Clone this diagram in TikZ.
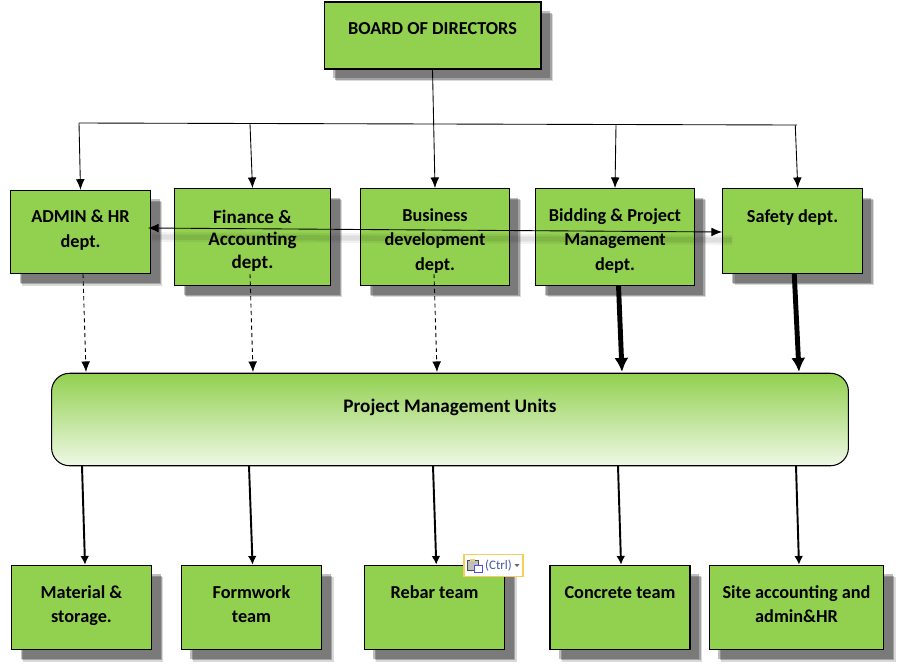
\documentclass[tikz,border=0pt]{standalone}
\usepackage{fontspec}
\setmainfont{Carlito}
\usetikzlibrary{arrows.meta,shadows}
\definecolor{boxgreen}{HTML}{92D050}
\definecolor{popupedge}{HTML}{F5CE5A}
\definecolor{ctrlblue}{HTML}{4A5A9A}
\tikzset{
	softshadow/.style={
		general shadow={shadow xshift=6.8pt,shadow yshift=-6.8pt,fill=black,opacity=.15},
		general shadow={shadow xshift=6pt,shadow yshift=-6pt,fill=black,opacity=.25},
		general shadow={shadow xshift=5.2pt,shadow yshift=-5.2pt,fill=black,opacity=.25}},
	greenbox/.style={draw,fill=boxgreen,softshadow,line width=.6pt,inner sep=0pt,align=center,font=\bfseries\fontsize{10.4}{13.7}\selectfont},
	thin link/.style={-{Latex[length=6pt,width=5pt]},line width=.5pt},
	dash link/.style={-{Latex[length=6pt,width=5pt]},line width=.5pt,dash pattern=on 2.4pt off 1.8pt},
	heavy link/.style={-{Latex[length=8pt,width=8pt]},line width=2.8pt},
	mid link/.style={-{Latex[length=5pt,width=5pt]},line width=1.1pt}
}
\newcommand{\link}[3]{\draw[#1] (#2) -- (#3);}

\begin{document}
\begin{tikzpicture}[x=.02cm,y=-.02cm]
	\useasboundingbox (0,0) rectangle (901,667);

	\node[greenbox,minimum width=4.34cm,minimum height=1.34cm,text height=7pt,text depth=8.2pt](board) at (432.5,35.5) {BOARD OF DIRECTORS};

	\node[greenbox,minimum width=2.8cm,minimum height=1.67cm,text height=21.2pt,text depth=3.9pt,font=\bfseries\fontsize{10.4}{14.2}\selectfont](admin) at (80.5,232) {ADMIN \& HR\\dept.};
	\node[greenbox,minimum width=3.12cm,minimum height=1.94cm,text height=35.3pt,text depth=0pt,font=\bfseries\fontsize{10.85}{12.8}\selectfont](finance) at (252.5,237) {Finance \&\\Accounting\\dept.};
	\node[greenbox,minimum width=2.97cm,minimum height=1.94cm,text height=37.6pt,text depth=0pt](business) at (435,237) {Business\\development\\dept.};
	\node[greenbox,minimum width=3.17cm,minimum height=1.94cm,text height=37.6pt,text depth=0pt](bidding) at (615,237) {Bidding \& Project\\Management\\dept.};
	\node[greenbox,minimum width=2.79cm,minimum height=1.7cm,text height=7pt,text depth=16.7pt](safety) at (792.5,231) {Safety dept.};

	\node[draw,line width=.6pt,rounded corners=.36cm,top color=boxgreen,bottom color=boxgreen!15,minimum width=15.94cm,minimum height=1.85cm,inner sep=0pt,text height=7pt,text depth=15pt,font=\bfseries\fontsize{10.9}{12}\selectfont](units) at (450,419.5) {Project Management Units};

	\node[greenbox,minimum width=2.8cm,minimum height=1.69cm,text height=20.6pt,text depth=3.7pt](material) at (81.5,607.5) {Material \&\\storage.};
	\node[greenbox,minimum width=2.81cm,minimum height=1.69cm,text height=20.6pt,text depth=3.7pt](formwork) at (251.5,607.5) {Formwork\\team};
	\node[greenbox,minimum width=2.81cm,minimum height=1.69cm,text height=7pt,text depth=17.3pt](rebar) at (434.5,607.5) {Rebar team};
	\node[greenbox,minimum width=2.8cm,minimum height=1.69cm,text height=7pt,text depth=17.3pt](concrete) at (620,607.5) {Concrete team};
	\node[greenbox,minimum width=3.49cm,minimum height=1.69cm,text height=20.6pt,text depth=3.7pt](site) at (796.5,607.5) {Site accounting and\\admin\&HR};

	% horizontal bus
	\coordinate (busa) at (79,123);
	\coordinate (busb) at (250,124);
	\coordinate (busc) at (433,124);
	\coordinate (busd) at (616,125);
	\coordinate (buse) at (797,125);
	\draw[line width=.5pt] (busa) -- (buse);

	\link{thin link}{board.south}{business.north}
	\link{thin link}{busa}{admin.north}
	\link{thin link}{busb}{finance.north}
	\link{thin link}{busd}{bidding.north}
	\link{thin link}{[xshift=-1pt]buse}{[xshift=3pt]safety.north}

	% arrow across the departments, with its smudge
	\coordinate (crossa) at (148,228);
	\coordinate (crossb) at (722,232);
	\coordinate (smudgea) at (152,237);
	\coordinate (smudgeb) at (732,240);
	\draw[line width=5.5pt,black,opacity=.05] (smudgea) -- (smudgeb);
	\draw[line width=3pt,black,opacity=.08] (smudgea) -- (smudgeb);
	\draw[{Latex[length=6pt,width=5pt]}-{Latex[length=6pt,width=5pt]},line width=.5pt] (crossa) -- (crossb);

	% top of the units box
	\coordinate (unita) at (86,372);
	\coordinate (unitb) at (253,372);
	\coordinate (unitc) at (437,372);
	\coordinate (unitd) at (622,372);
	\coordinate (unite) at (799,372);
	\coordinate (dasha) at (83,274);
	\coordinate (dashb) at (250,274);
	\coordinate (dashc) at (434,274);
	\link{dash link}{dasha}{unita}
	\link{dash link}{dashb}{unitb}
	\link{dash link}{dashc}{unitc}
	\link{heavy link}{[xshift=2pt]bidding.south}{unitd}
	\link{heavy link}{[xshift=1pt]safety.south}{unite}

	% bottom row
	\coordinate (lowa) at (82,466);
	\coordinate (lowb) at (249,466);
	\coordinate (lowc) at (433,466);
	\coordinate (lowd) at (618,466);
	\coordinate (lowe) at (796,466);
	\link{mid link}{lowa}{[xshift=2pt]material.north}
	\link{mid link}{lowb}{[xshift=.6pt]formwork.north}
	\link{mid link}{lowc}{[xshift=1pt]rebar.north}
	\link{mid link}{lowd}{[xshift=.6pt]concrete.north}
	\link{mid link}{lowe}{[xshift=1.4pt]site.north}

	% paste popup
	\node[draw=popupedge,fill=white,line width=.6pt,minimum width=1.18cm,minimum height=.44cm,inner sep=0pt](popup) at (493.5,565.5) {};
	\node[inner sep=0pt,text=ctrlblue,font=\fontsize{7.4}{8}\selectfont](ctrl) at (498.5,565.5) {(Ctrl)};
	\fill[gray!80!black] (514.5,564) -- (519.5,564) -- (517,567) -- cycle;
	\draw[black!70,fill=gray!50,line width=.4pt] (467,560) rectangle (478,570);
	\draw[blue!70,fill=white,line width=.5pt] (474,565) rectangle (482,572);
	\fill[popupedge] (470,558.5) rectangle (475,561);
\end{tikzpicture}
\end{document}
